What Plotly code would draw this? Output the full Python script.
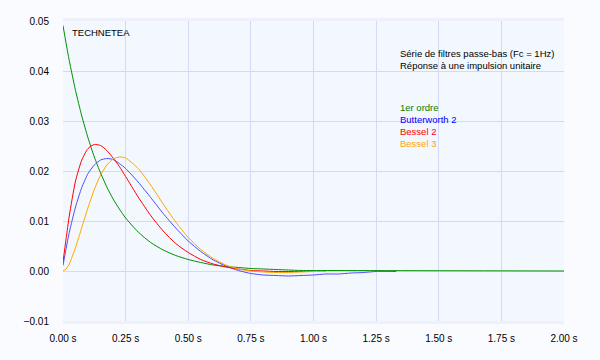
import plotly.graph_objects as go

# ---- data ----
t_green = [0, 0.0125, 0.025, 0.05, 0.075, 0.1, 0.125, 0.15, 0.175, 0.2, 0.225, 0.25,
           0.3, 0.35, 0.4, 0.45, 0.5, 0.55, 0.6, 0.65, 0.7, 0.75, 0.8, 0.85, 0.9, 0.95, 1.0, 2.0]
v_green = [0.0491, 0.0455, 0.0421, 0.0361, 0.0310, 0.0266, 0.0228, 0.0196, 0.0168, 0.0144, 0.0124, 0.0106,
           0.0078, 0.0057, 0.0042, 0.0031, 0.0023, 0.0017, 0.0012, 0.0009, 0.0007, 0.0005, 0.0004, 0.0003,
           0.0002, 0.0001, 0.0001, 0.0]

t_blue = [0, 0.0125, 0.025, 0.05, 0.075, 0.1, 0.125, 0.15, 0.175, 0.2, 0.225, 0.25,
          0.3, 0.35, 0.4, 0.45, 0.5, 0.55, 0.6, 0.65, 0.7, 0.75, 0.8, 0.85, 0.9, 0.95, 1.0,
          1.05, 1.1, 1.15, 1.2, 1.25, 1.33]
v_blue = [0.0011, 0.0045, 0.0077, 0.0128, 0.0167, 0.0195, 0.0212, 0.0222, 0.0225, 0.0223, 0.0215, 0.0205,
          0.0178, 0.0147, 0.0115, 0.0086, 0.0060, 0.0039, 0.0022, 0.0010, 0.0001, -0.0005, -0.0008, -0.0009,
          -0.0010, -0.0009, -0.0008, -0.0006, -0.0006, -0.0004, -0.0003, -0.0001, -0.0001]

t_red = [0, 0.0125, 0.025, 0.05, 0.075, 0.1, 0.125, 0.15, 0.175, 0.2, 0.225, 0.25,
         0.3, 0.35, 0.4, 0.45, 0.5, 0.55, 0.6, 0.65, 0.7, 0.75, 0.8, 0.85, 0.9, 0.95, 1.0]
v_red = [0.0018, 0.0065, 0.0110, 0.0180, 0.0222, 0.0245, 0.0253, 0.0251, 0.0241, 0.0226, 0.0209, 0.0189,
         0.0148, 0.0111, 0.0080, 0.0055, 0.0037, 0.0023, 0.0014, 0.0008, 0.0004, 0.0001, 0.0, -0.0001,
         -0.0001, -0.0001, -0.0001]

t_orange = [0, 0.0125, 0.025, 0.05, 0.075, 0.1, 0.125, 0.15, 0.175, 0.2, 0.225, 0.25,
            0.3, 0.35, 0.4, 0.45, 0.5, 0.55, 0.6, 0.65, 0.7, 0.75, 0.8, 0.85, 0.9, 0.95, 1.0, 1.05]
v_orange = [0.0, 0.0004, 0.0014, 0.0047, 0.0087, 0.0127, 0.0163, 0.0192, 0.0212, 0.0224, 0.0228, 0.0226,
            0.0205, 0.0172, 0.0134, 0.0098, 0.0067, 0.0043, 0.0025, 0.0012, 0.0004, 0.0, -0.0002, -0.0003,
            -0.0003, -0.0002, -0.0001, -0.0001]

x_tickvals = [0, 0.25, 0.5, 0.75, 1.0, 1.25, 1.5, 1.75, 2.0]
x_ticktext = ["0.00 s", "0.25 s", "0.50 s", "0.75 s", "1.00 s", "1.25 s", "1.50 s", "1.75 s", "2.00 s"]
y_tickvals = [-0.01, 0.0, 0.01, 0.02, 0.03, 0.04, 0.05]

series_names = ["1er ordre", "Butterworth 2", "Bessel 2", "Bessel 3"]
text_colors = ["#008000", "#0000ff", "#ff0000", "#ffa500"]
line_colors = ["#009000", "#4d4dff", "#ff0000", "#ffa500"]
title_lines = ["Série de filtres passe-bas (Fc = 1Hz)", "Réponse à une impulsion unitaire"]

FONT = "Arial, 'Liberation Sans', sans-serif"
TXT = 9.5

fig = go.Figure()
for t, v, name, col in zip([t_green, t_blue, t_red, t_orange],
                           [v_green, v_blue, v_red, v_orange],
                           series_names, line_colors):
    fig.add_trace(go.Scatter(x=t, y=v, mode="lines", name=name,
                             line=dict(color=col, width=1, shape="spline", smoothing=0.6),
                             hoverinfo="skip"))

W, H = 600, 360
L, R, T, B = 63, 36, 21, 39
pw, ph = W - L - R, H - T - B

def px(x):
    return (x - L) / pw

def py(y):
    return (H - B - y) / ph

annotations = [dict(text="TECHNETEA", x=px(70), y=py(32.5), xref="paper", yref="paper",
                    xanchor="left", yanchor="middle", showarrow=False,
                    font=dict(family=FONT, size=TXT, color="#000000"))]
for i, line in enumerate(title_lines):
    annotations.append(dict(text=line, x=px(398), y=py(53.5 + 11.7 * i), xref="paper", yref="paper",
                            xanchor="left", yanchor="middle", showarrow=False,
                            font=dict(family=FONT, size=TXT, color="#000000")))
for i, (name, col) in enumerate(zip(series_names, text_colors)):
    annotations.append(dict(text=name, x=px(398), y=py(107.5 + 11.9 * i), xref="paper", yref="paper",
                            xanchor="left", yanchor="middle", showarrow=False,
                            font=dict(family=FONT, size=TXT, color=col)))

shapes = [
    # faint shadow above the top edge and below the bottom edge of the plot area
    dict(type="rect", xref="paper", yref="paper", x0=0, x1=1, y0=1, y1=py(18), layer="below",
         fillcolor="#eef0fb", line=dict(width=0)),
    dict(type="rect", xref="paper", yref="paper", x0=0, x1=1, y0=py(324), y1=0, layer="below",
         fillcolor="#eef0fb", line=dict(width=0)),
]

fig.update_layout(
    width=W, height=H,
    margin=dict(l=L, r=R, t=T, b=B, pad=0),
    paper_bgcolor="#fafbff",
    plot_bgcolor="#f3f7fe",
    showlegend=False,
    font=dict(family=FONT, size=10, color="#000000"),
    annotations=annotations,
    shapes=shapes,
    xaxis=dict(range=[0, 2.0], tickvals=x_tickvals, ticktext=x_ticktext,
               showgrid=True, gridcolor="#d6d8f7", gridwidth=1, zeroline=False,
               showline=False, ticks="", ticklabelstandoff=10,
               tickfont=dict(family=FONT, size=10, color="#000000"), fixedrange=True),
    yaxis=dict(range=[-0.01, 0.05], tickvals=y_tickvals, tickformat=".2f",
               showgrid=True, gridcolor="#d6d8f7", gridwidth=1, zeroline=False,
               showline=False, ticks="", ticklabelstandoff=13,
               tickfont=dict(family=FONT, size=10, color="#000000"), fixedrange=True),
)

fig.write_html("out.html", config={"displayModeBar": False},
               post_script="document.body.style.margin='0';document.body.style.background='#fafbff';")
